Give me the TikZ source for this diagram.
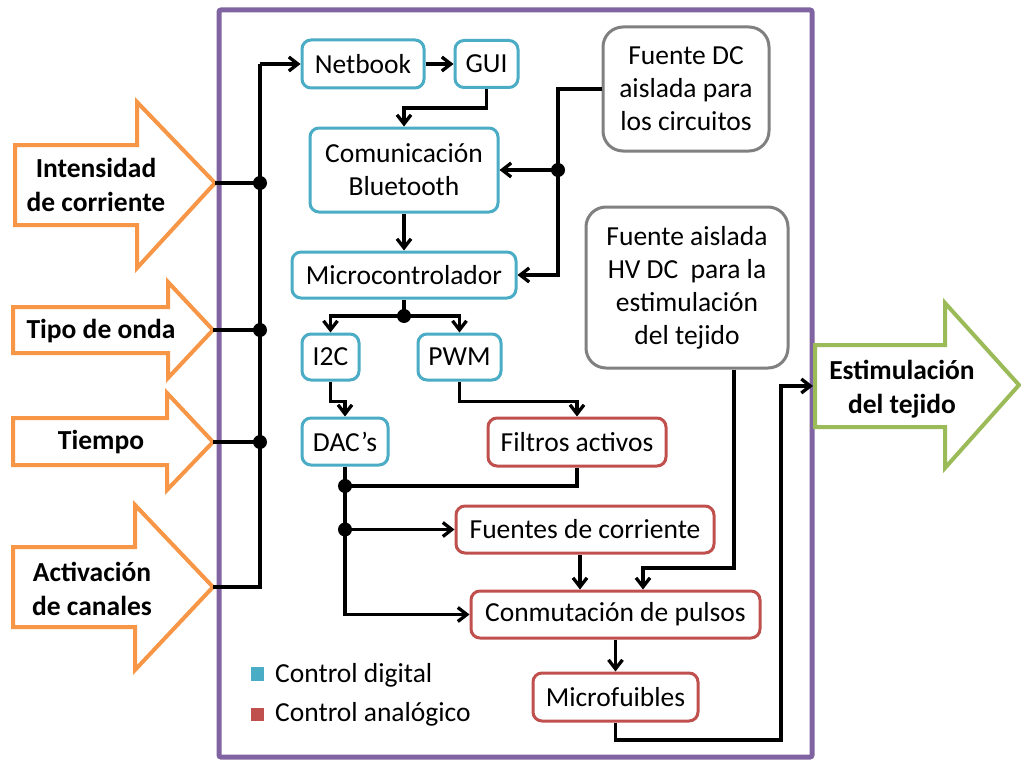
\documentclass[tikz,border=0pt]{standalone}
\usepackage{fontspec}
\setmainfont{Carlito}
\usetikzlibrary{arrows.meta}
\definecolor{cblue}{HTML}{4BACC6}
\definecolor{cred}{HTML}{C0504D}
\definecolor{cgray}{HTML}{808080}
\definecolor{corange}{HTML}{F79646}
\definecolor{cgreen}{HTML}{9BBB59}
\definecolor{cpurple}{HTML}{8064A2}
\tikzset{
  txt/.style={font=\fontsize{27.5}{33}\selectfont},
  boxbase/.style={txt, draw, line width=3pt, fill=white, rounded corners=9pt, inner sep=2pt, align=center},
  dbox/.style={boxbase, draw=cblue},
  abox/.style={boxbase, draw=cred},
  gbox/.style={boxbase, draw=cgray, rounded corners=20pt},
  conn/.style={line width=3.3pt, black},
  arr/.style={conn, -{Straight Barb[length=9pt,width=14pt]}},
  bigarrow/.style={line width=4pt, draw=corange, fill=white, line join=miter},
  garrow/.style={line width=4pt, draw=cgreen, fill=white, line join=miter},
  blabel/.style={txt, font=\fontsize{27.5}{34}\selectfont\bfseries, align=center},
}
\begin{document}
\begin{tikzpicture}[x=1pt,y=-1pt]
\useasboundingbox (0,0) rectangle (1021,760);
\fill[white] (0,0) rectangle (1021,760);
% frame
\draw[cpurple, line width=5pt, rounded corners=2pt] (219,10) rectangle (812,757);
% input arrows
\draw[bigarrow] (15,145) -- (137,145) -- (137,102) -- (215,183) -- (137,268) -- (137,225) -- (15,225) -- cycle;
\draw[bigarrow] (13,307) -- (168,307) -- (168,282) -- (213,330) -- (168,378) -- (168,353) -- (13,353) -- cycle;
\draw[bigarrow] (13,418) -- (167,418) -- (167,393) -- (213,442) -- (167,490) -- (167,465) -- (13,465) -- cycle;
\draw[bigarrow] (13,547) -- (135,547) -- (135,505) -- (213,587) -- (135,670) -- (135,627) -- (13,627) -- cycle;
\draw[garrow] (815,345) -- (945,345) -- (945,303) -- (1019,385) -- (945,468) -- (945,427) -- (815,427) -- cycle;
\node[blabel] (l1) at (96,185) {Intensidad\\de corriente};
\node[blabel] (l2) at (101,331) {Tipo de onda};
\node[blabel] (l3) at (101,442) {Tiempo};
\node[blabel] (l4) at (92,589) {Activación\\de canales};
\node[blabel] (l5) at (902,389) {Estimulación\\del tejido};
\coordinate (a1) at (215,183);
\coordinate (a2) at (213,330);
\coordinate (a3) at (213,442);
\coordinate (a4) at (213,587);
\coordinate (gin) at (813,386);
% boxes
\node[dbox, minimum width=122pt, minimum height=48pt] (netbook) at (363,64) {Netbook};
\node[dbox, minimum width=63pt, minimum height=47pt] (gui) at (486.5,64) {GUI};
\node[dbox, minimum width=188pt, minimum height=84pt] (bt) at (404,170) {Comunicación\\Bluetooth};
\node[dbox, minimum width=224pt, minimum height=46pt] (micro) at (404,275) {Microcontrolador};
\node[dbox, minimum width=57pt, minimum height=46pt] (i2c) at (330.5,357) {I2C};
\node[dbox, minimum width=83pt, minimum height=46pt] (pwm) at (459.5,357) {PWM};
\node[dbox, minimum width=86pt, minimum height=47pt] (dac) at (345,441.5) {DAC’s};
\node[abox, minimum width=178pt, minimum height=48pt] (filtros) at (577,442) {Filtros activos};
\node[abox, minimum width=258pt, minimum height=47pt] (fuentes) at (585,529.5) {Fuentes de corriente};
\node[abox, minimum width=289pt, minimum height=47pt] (conm) at (615.5,614.5) {Conmutación de pulsos};
\node[abox, minimum width=165pt, minimum height=48pt] (mfus) at (615.5,697) {Microfuibles};
\node[gbox, minimum width=166pt, minimum height=124pt] (fdc) at (686,89) {Fuente DC\\aislada para\\los circuitos};
\node[gbox, minimum width=202pt, minimum height=161pt] (fhv) at (687,287.5) {Fuente aislada\\HV DC\ \ para la\\estimulación\\del tejido};
% bus
\coordinate (btop) at (260,64);
\coordinate (j1) at (260,183);
\coordinate (j2) at (260,330);
\coordinate (j3) at (260,442);
\coordinate (bbot) at (260,587);
\draw[conn] (a4) -- (bbot) -- (btop);
\draw[conn] (a1) -- (j1);
\draw[conn] (a2) -- (j2);
\draw[conn] (a3) -- (j3);
\draw[arr] (btop) -- (netbook.west);
\draw[arr] (netbook.east) -- (gui.west);
\draw[arr] (gui.south) -- ++(0,19) -| (bt.north);
\draw[arr] (bt.south) -- (micro.north);
% DC source
\coordinate (jdc) at (558,170);
\coordinate (cdc) at (558,275);
\draw[arr] (fdc.west) -| (cdc) -- (micro.east);
\draw[arr] (jdc) -- (bt.east);
% micro split
\coordinate (jm) at (404,316);
\draw[conn] (micro.south) -- (jm);
\draw[arr] (jm) -| (i2c.north);
\draw[arr] (jm) -| (pwm.north);
\draw[arr] (i2c.south) -- ++(0,20) -| (dac.north);
\draw[arr] (pwm.south) -- ++(0,20) -| (filtros.north);
% DAC outputs
\coordinate (jd1) at (345,486);
\coordinate (jd2) at (345,529.5);
\draw[conn] (dac.south) -- (jd1) -- (jd2);
\draw[conn] (filtros.south) |- (jd1);
\draw[arr] (jd2) -- (fuentes.west);
\draw[arr] (jd2) |- (conm.west);
\draw[arr] ([xshift=-5pt]fuentes.south) -- ([xshift=-5pt]fuentes.south |- conm.north);
\coordinate (hvk) at (643,568);
\draw[arr] ([xshift=47pt]fhv.south) |- (hvk) -- (hvk |- conm.north);
\draw[arr] (conm.south) -- (mfus.north);
\coordinate (k1) at (781,740);
\draw[arr] (mfus.south) |- (k1) |- (gin);
% dots
\foreach \p in {j1,j2,j3,jdc,jm,jd1,jd2} \fill (\p) circle (7pt);
% legend
\fill[cblue] (251,667) rectangle (264,681);
\fill[cred] (251,708) rectangle (264,721);
\node[txt, anchor=west, inner sep=0pt] (ld) at (275,675) {Control digital};
\node[txt, anchor=west, inner sep=0pt] (la) at (275,714) {Control analógico};
\end{tikzpicture}
\end{document}
